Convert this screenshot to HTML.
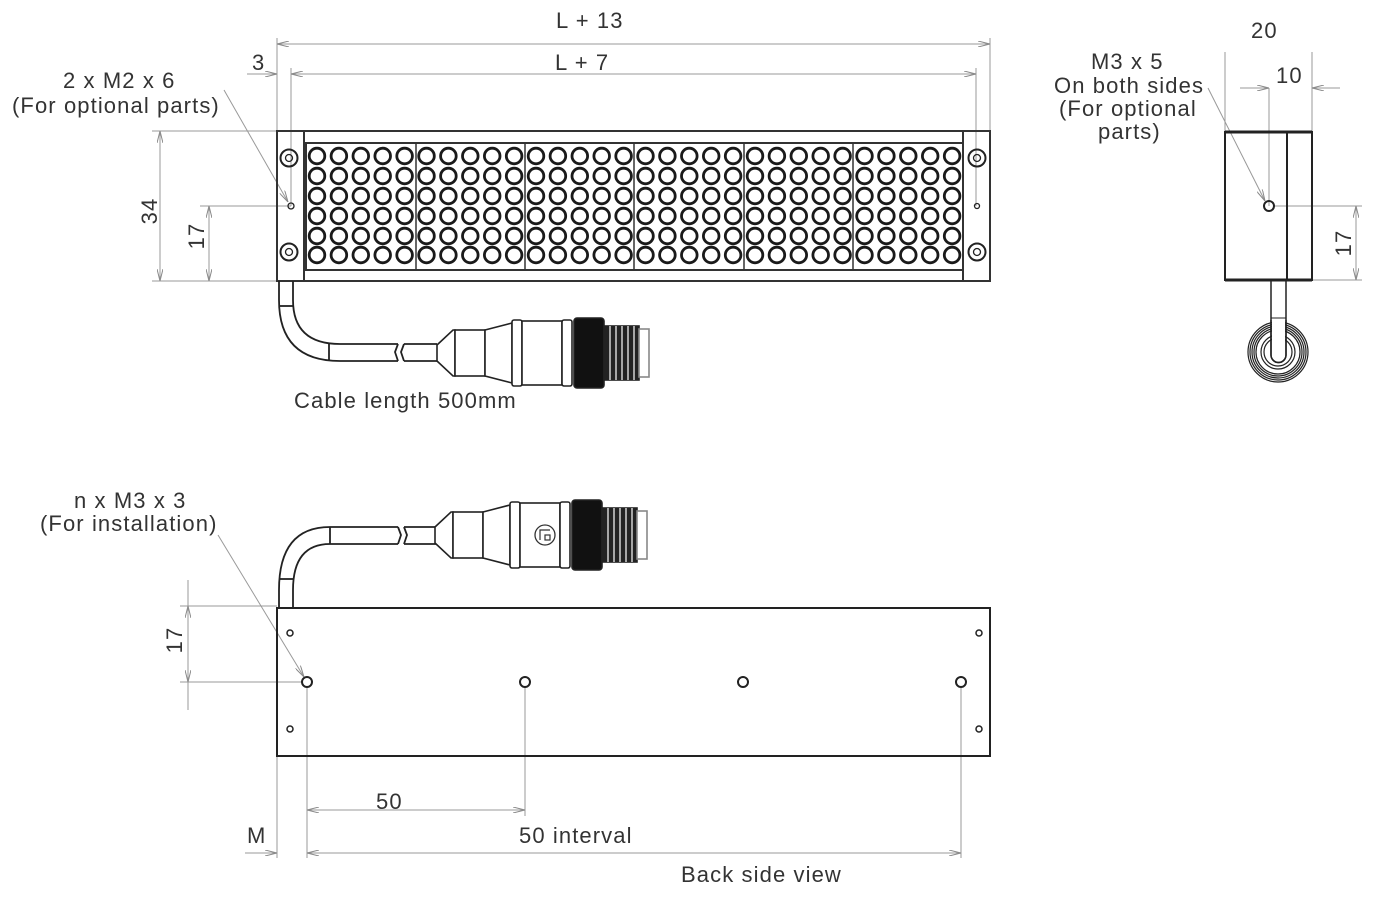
<!DOCTYPE html>
<html><head><meta charset="utf-8"><style>
html,body{margin:0;padding:0;background:#fff;}
svg{display:block;}
text{font-family:"Liberation Sans","DejaVu Sans",sans-serif;font-size:22px;fill:#333;letter-spacing:1.1px;}
</style></head><body>
<svg width="1380" height="899" viewBox="0 0 1380 899" xmlns="http://www.w3.org/2000/svg">
<defs>
<marker id="a" viewBox="0 0 12 6" refX="12" refY="3" markerWidth="12" markerHeight="6" orient="auto-start-reverse" markerUnits="userSpaceOnUse"><path d="M0,0 L12,3 L0,6" fill="none" stroke="#888" stroke-width="1"/></marker>
<g id="conn" fill="#fff" stroke="#222" stroke-width="1.6">
<path d="M0,-8 L16,-23 L18,-23 L18,23 L16,23 L0,8Z"/>
<rect x="18" y="-23" width="30" height="46"/>
<path d="M48,-23 L75,-30 L75,30 L48,23Z"/>
<rect x="75" y="-33" width="10" height="66" rx="2"/>
<rect x="85" y="-32" width="40" height="64"/>
<rect x="125" y="-33" width="10" height="66" rx="2"/>
<rect x="137" y="-35" width="30" height="70" rx="3" fill="#111"/>
<rect x="167" y="-27" width="35" height="54" fill="#222"/>
<g stroke="#fff" stroke-width="1.2"><line x1="173" y1="-27" x2="173" y2="27"/><line x1="179" y1="-27" x2="179" y2="27"/><line x1="185" y1="-27" x2="185" y2="27"/><line x1="191" y1="-27" x2="191" y2="27"/><line x1="197" y1="-27" x2="197" y2="27"/></g>
<rect x="202" y="-24" width="10" height="48" stroke="#888"/>
</g>
</defs>

<!-- FRONT VIEW -->
<g fill="none" stroke="#999" stroke-width="1">
<line x1="277" y1="38" x2="277" y2="131"/><line x1="990" y1="38" x2="990" y2="131"/>
<line x1="277" y1="44" x2="990" y2="44" marker-start="url(#a)" marker-end="url(#a)"/>
<line x1="291" y1="68" x2="291" y2="206"/><line x1="976" y1="68" x2="976" y2="206"/>
<line x1="291" y1="74" x2="976" y2="74" marker-start="url(#a)" marker-end="url(#a)"/>
<line x1="247" y1="74" x2="277" y2="74" marker-end="url(#a)"/>
<line x1="152" y1="131" x2="277" y2="131"/><line x1="152" y1="281" x2="277" y2="281"/>
<line x1="160" y1="131" x2="160" y2="281" marker-start="url(#a)" marker-end="url(#a)"/>
<line x1="200" y1="206" x2="291" y2="206"/>
<line x1="209" y1="206" x2="209" y2="281" marker-start="url(#a)" marker-end="url(#a)"/>
<line x1="224" y1="90" x2="288" y2="202" marker-end="url(#a)"/>
</g>
<g fill="none" stroke="#333" stroke-width="2">
<rect x="277" y="131" width="713" height="150"/>
<line x1="304" y1="131" x2="304" y2="281"/><line x1="963" y1="131" x2="963" y2="281"/>
<rect x="306" y="143" width="657" height="127"/>
<g stroke-width="1.5"><line x1="416" y1="143" x2="416" y2="270"/><line x1="525" y1="143" x2="525" y2="270"/><line x1="634" y1="143" x2="634" y2="270"/><line x1="744" y1="143" x2="744" y2="270"/><line x1="853" y1="143" x2="853" y2="270"/></g>
</g>
<g fill="none" stroke="#222" stroke-width="2">
<circle cx="289" cy="158" r="8.5"/><circle cx="289" cy="158" r="3.5" stroke-width="1.3"/>
<circle cx="289" cy="252" r="8.5"/><circle cx="289" cy="252" r="3.5" stroke-width="1.3"/>
<circle cx="977" cy="158" r="8.5"/><circle cx="977" cy="158" r="3.5" stroke-width="1.3"/>
<circle cx="977" cy="252" r="8.5"/><circle cx="977" cy="252" r="3.5" stroke-width="1.3"/>
<circle cx="291" cy="206" r="3" stroke-width="1.3"/><circle cx="977" cy="206" r="2.5" stroke-width="1.3"/>
</g>
<!-- front cable -->
<g fill="none" stroke="#222" stroke-width="1.8">
<path d="M279,281 L279,300 Q279,361 340,361 L398,361"/>
<path d="M293,281 L293,300 Q293,344 340,344 L398,344"/>
<line x1="279" y1="306" x2="293" y2="306"/><line x1="329" y1="344" x2="329" y2="361"/>
<path d="M398,344 L395,352 L398,361"/><path d="M404,344 L401,352 L404,361"/>
<line x1="404" y1="344" x2="437" y2="344"/><line x1="404" y1="361" x2="437" y2="361"/>
</g>
<use href="#conn" x="437" y="353"/>
<text x="294" y="408">Cable length 500mm</text>
<text x="556" y="28">L + 13</text>
<text x="555" y="70">L + 7</text>
<text x="252" y="70">3</text>
<text x="63" y="88">2 x M2 x 6</text>
<text x="12" y="113">(For optional parts)</text>
<text transform="translate(157,211) rotate(-90)" text-anchor="middle">34</text>
<text transform="translate(204,236) rotate(-90)" text-anchor="middle">17</text>

<!-- SIDE VIEW -->
<g fill="none" stroke="#999" stroke-width="1">
<line x1="1225" y1="52" x2="1225" y2="131"/><line x1="1312" y1="52" x2="1312" y2="131"/>
<line x1="1269" y1="88" x2="1269" y2="206"/>
<line x1="1240" y1="88" x2="1269" y2="88" marker-end="url(#a)"/>
<line x1="1340" y1="88" x2="1312" y2="88" marker-end="url(#a)"/>
<line x1="1273" y1="206" x2="1362" y2="206"/><line x1="1312" y1="280" x2="1362" y2="280"/>
<line x1="1356" y1="206" x2="1356" y2="280" marker-start="url(#a)" marker-end="url(#a)"/>
<line x1="1208" y1="88" x2="1265" y2="201" marker-end="url(#a)"/>
</g>
<g fill="none" stroke="#222" stroke-width="2">
<rect x="1225" y="132" width="87" height="148"/>
<line x1="1225" y1="132" x2="1312" y2="132" stroke-width="3"/><line x1="1225" y1="280" x2="1312" y2="280" stroke-width="3"/>
<line x1="1287" y1="132" x2="1287" y2="280"/>
<circle cx="1269" cy="206" r="5"/>
<path d="M1271,280 L1271,355 A7.5,7.5 0 0 0 1286,355 L1286,280" stroke-width="1.5"/>
<line x1="1271" y1="318" x2="1286" y2="318" stroke-width="1"/>
<g stroke-width="1.2"><circle cx="1278" cy="352" r="30"/><circle cx="1278" cy="352" r="28"/><circle cx="1278" cy="352" r="26"/><circle cx="1278" cy="352" r="24"/><circle cx="1278" cy="352" r="22"/><circle cx="1278" cy="352" r="17"/><circle cx="1278" cy="352" r="14"/></g>
</g>
<rect x="1272" y="320" width="13" height="37" fill="#fff"/>
<path d="M1271,320 L1271,355 A7.5,7.5 0 0 0 1286,355 L1286,320" fill="none" stroke="#222" stroke-width="1.5"/>
<text x="1251" y="38">20</text>
<text x="1276" y="83">10</text>
<text x="1091" y="69">M3 x 5</text>
<text x="1054" y="93">On both sides</text>
<text x="1059" y="116">(For optional</text>
<text x="1098" y="139">parts)</text>
<text transform="translate(1351,243) rotate(-90)" text-anchor="middle">17</text>

<!-- BACK VIEW -->
<g fill="none" stroke="#999" stroke-width="1">
<line x1="180" y1="606" x2="277" y2="606"/><line x1="180" y1="682" x2="302" y2="682"/>
<line x1="188" y1="580" x2="188" y2="710"/>
<line x1="188" y1="606" x2="188" y2="682" marker-start="url(#a)" marker-end="url(#a)"/>
<line x1="277" y1="756" x2="277" y2="858"/><line x1="307" y1="687" x2="307" y2="858"/>
<line x1="525" y1="687" x2="525" y2="816"/><line x1="961" y1="687" x2="961" y2="858"/>
<line x1="307" y1="810" x2="525" y2="810" marker-start="url(#a)" marker-end="url(#a)"/>
<line x1="307" y1="853" x2="961" y2="853" marker-start="url(#a)" marker-end="url(#a)"/>
<line x1="245" y1="853" x2="277" y2="853" marker-end="url(#a)"/>
<line x1="218" y1="535" x2="304" y2="677" marker-end="url(#a)"/>
</g>
<g fill="none" stroke="#222" stroke-width="2">
<rect x="277" y="608" width="713" height="148"/>
<circle cx="307" cy="682" r="5"/><circle cx="525" cy="682" r="5"/><circle cx="743" cy="682" r="5"/><circle cx="961" cy="682" r="5"/>
<g stroke-width="1.5"><circle cx="290" cy="633" r="3"/><circle cx="290" cy="729" r="3"/><circle cx="979" cy="633" r="3"/><circle cx="979" cy="729" r="3"/></g>
</g>
<g fill="none" stroke="#222" stroke-width="1.8">
<path d="M279,608 L279,590 Q279,527 330,527 L398,527"/>
<path d="M293,608 L293,590 Q293,544 330,544 L398,544"/>
<line x1="279" y1="579" x2="293" y2="579"/><line x1="330" y1="527" x2="330" y2="544"/>
<path d="M398,527 L401,535 L398,544"/><path d="M404,527 L407,535 L404,544"/>
<line x1="404" y1="527" x2="437" y2="527"/><line x1="404" y1="544" x2="437" y2="544"/>
</g>
<use href="#conn" x="435" y="535"/>
<circle cx="545" cy="535" r="10" fill="#fff" stroke="#333" stroke-width="1.3"/>
<path d="M540,540 L540,530 L550,530" fill="none" stroke="#333" stroke-width="1.2"/>
<rect x="545" y="535" width="5" height="5" fill="none" stroke="#333" stroke-width="1.2"/>
<text x="74" y="508">n x M3 x 3</text>
<text x="40" y="531">(For installation)</text>
<text transform="translate(182,640) rotate(-90)" text-anchor="middle">17</text>
<text x="376" y="809">50</text>
<text x="519" y="843">50 interval</text>
<text x="247" y="843">M</text>
<text x="681" y="882">Back side view</text>
<g id="grid"></g>
</svg>
<script>
(function(){var g=document.getElementById('grid');var ns='http://www.w3.org/2000/svg';
var ys=[156,176,196,216,236,255];
for(var c=0;c<30;c++){var x=317+c*21.9;for(var r=0;r<6;r++){var e=document.createElementNS(ns,'circle');
e.setAttribute('cx',x.toFixed(1));e.setAttribute('cy',ys[r]);e.setAttribute('r','7.8');
e.setAttribute('fill','none');e.setAttribute('stroke','#1a1a1a');e.setAttribute('stroke-width','2.8');g.appendChild(e);}}})();
</script>
</body></html>
